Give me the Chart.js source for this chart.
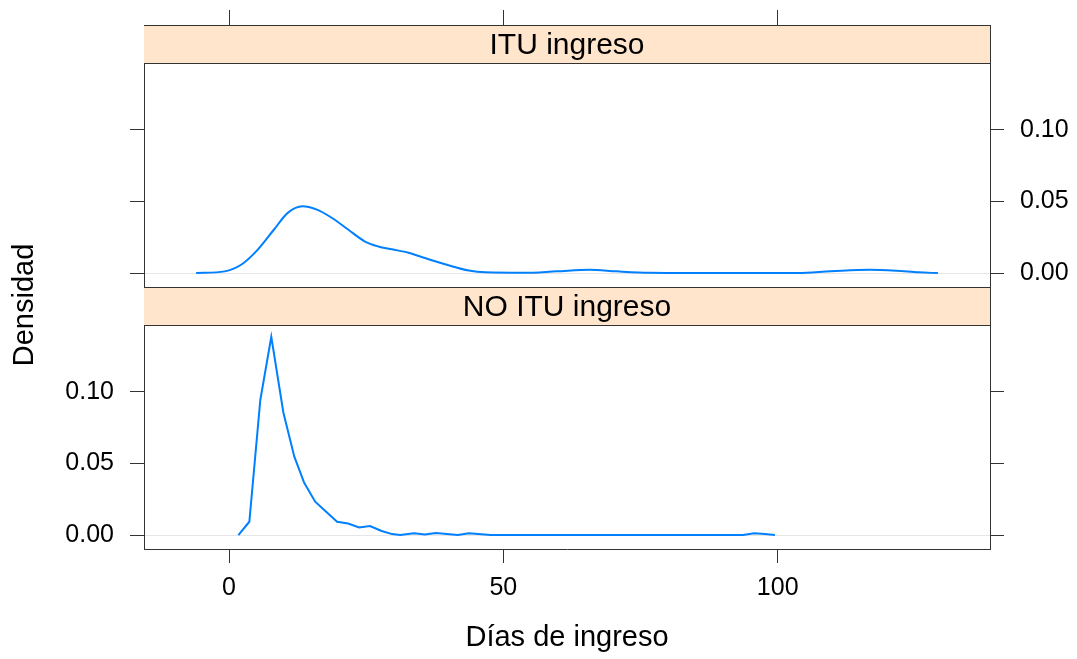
<!DOCTYPE html>
<html>
<head>
<meta charset="utf-8">
<title>Densidad - Días de ingreso</title>
<script src="https://cdn.jsdelivr.net/npm/chart.js@4.4.0/dist/chart.umd.min.js"></script>
<style>
    html, body { margin: 0; padding: 0; background: #ffffff; }
    #wrap { width: 1077px; height: 659px; position: relative; }
</style>
</head>
<body>
<div id="wrap"><canvas id="densityChart"></canvas></div>
<script>
const panelLabels = ['ITU ingreso', 'NO ITU ingreso'];

// ITU ingreso (top panel)
const ituX = [-6.0, -0.8, 2.2, 5.2, 8.2, 10.7, 13.4, 15.9, 18.7, 21.7, 24.7, 27.2, 29.7, 32.7, 35.7,
              39.7, 43.7, 46.7, 53.7, 59.7, 65.7, 70.7, 76.7, 83.7, 103.7, 109.7, 116.7, 121.7, 125.7, 129.2];
const ituY = [0.0000, 0.0012, 0.0058, 0.0162, 0.0304, 0.0420, 0.0466, 0.0444, 0.0386, 0.0304, 0.0222, 0.0186, 0.0166, 0.0142, 0.0105,
              0.0058, 0.0018, 0.0005, 0.0002, 0.0012, 0.0023, 0.0012, 0.0002, 0.0000, 0.0000, 0.0012, 0.0023, 0.0016, 0.0005, 0.0000];

// NO ITU ingreso (bottom panel)
const noItuX = [1.7, 3.7, 5.7, 7.7, 9.9, 11.9, 13.7, 15.7, 17.7, 19.7, 21.7, 23.7, 25.7, 27.7,
                29.7, 31.2, 33.7, 35.7, 37.7, 39.7, 41.7, 43.7, 47.7, 93.7, 95.7, 97.7, 99.5];
const noItuY = [0.0000, 0.0093, 0.0942, 0.1382, 0.0855, 0.0547, 0.0365, 0.0233, 0.0163, 0.0093, 0.0081, 0.0053, 0.0063, 0.0030,
                0.0007, 0.0000, 0.0012, 0.0005, 0.0014, 0.0007, 0.0000, 0.0012, 0.0000, 0.0000, 0.0012, 0.0007, 0.0000];

const xTickValues = [0, 50, 100];
const yTickValues = [0, 0.05, 0.10];
const yTickLabels = ['0.00', '0.05', '0.10'];

const xTitle = 'Días de ingreso';
const yTitle = 'Densidad';

// --- Look ---
const LINE_BLUE = '#0080ff';
const STRIP_BG = '#ffe5cc';
const FRAME = '#333333';
const REF_LINE = '#e6e6e6';
const STRIP_H = 38;
const X_MIN = -15.5, X_MAX = 138.7;
const Y_MIN = -0.0097, Y_MAX = 0.173; // top of range is covered by the strip

Chart.defaults.font.family = '"Liberation Sans", Arial, sans-serif';
Chart.defaults.color = '#000000';

function toPoints(xs, ys) {
    return xs.map((x, i) => ({ x: x, y: ys[i] }));
}

function fixTicks(values) {
    return scale => { scale.ticks = values.map(v => ({ value: v })); };
}

// builds one of the four stacked y axes (two per side)
function yAxis(position, showLabels, weight, refLine) {
    return {
        type: 'linear', position: position, stack: position, stackWeight: 1, weight: weight,
        min: Y_MIN, max: Y_MAX,
        afterBuildTicks: fixTicks(yTickValues),
        afterFit: scale => {
            scale.width = position === 'left' ? 144 : 87;
            // labels never reach the panel edges, so no extra room needed
            scale.paddingTop = 0; scale.paddingBottom = 0;
        },
        ticks: {
            display: showLabels, padding: 16, font: { size: 25 }, color: '#000',
            callback: value => yTickLabels[yTickValues.indexOf(value)]
        },
        grid: {
            drawOnChartArea: refLine, drawTicks: true, tickLength: 14, tickColor: FRAME,
            color: ctx => (refLine && ctx.tick && ctx.tick.value === 0) ? REF_LINE : 'rgba(0,0,0,0)'
        },
        border: { display: true, color: FRAME, width: 1 }
    };
}

// strips with the panel names + the rotated y title
const latticePlugin = {
    id: 'latticeStrips',
    beforeDatasetsDraw(chart) {
        const { ctx, chartArea } = chart;
        ['yLeftTop', 'yLeftBottom'].forEach((id, i) => {
            const s = chart.scales[id];
            const top = Math.round(s.top);
            ctx.save();
            ctx.fillStyle = STRIP_BG;
            ctx.fillRect(chartArea.left, top, chartArea.width, STRIP_H);
            ctx.strokeStyle = FRAME; ctx.lineWidth = 1;
            ctx.beginPath();
            ctx.moveTo(chartArea.left, top + 0.5); ctx.lineTo(chartArea.right, top + 0.5);
            ctx.moveTo(chartArea.left, top + STRIP_H + 0.5); ctx.lineTo(chartArea.right, top + STRIP_H + 0.5);
            ctx.stroke();
            ctx.fillStyle = '#000';
            ctx.font = '30px "Liberation Sans", Arial, sans-serif';
            ctx.textAlign = 'center'; ctx.textBaseline = 'alphabetic';
            ctx.fillText(panelLabels[i], (chartArea.left + chartArea.right) / 2, top + 28.5);
            ctx.restore();
        });
    },
    afterDraw(chart) {
        const { ctx } = chart;
        ctx.save();
        ctx.translate(33, 305);
        ctx.rotate(-Math.PI / 2);
        ctx.fillStyle = '#000';
        ctx.font = '29px "Liberation Sans", Arial, sans-serif';
        ctx.textAlign = 'center'; ctx.textBaseline = 'alphabetic';
        ctx.fillText(yTitle, 0, 0);
        ctx.restore();
    }
};

function createDensityChart() {
    const canvas = document.getElementById('densityChart');
    if (!canvas) {
        console.error("Canvas element #densityChart not found!");
        return;
    }
    const ctx = canvas.getContext('2d');

    const data = {
        datasets: [
            {
                label: panelLabels[0], data: toPoints(ituX, ituY),
                xAxisID: 'x', yAxisID: 'yLeftTop',
                borderColor: LINE_BLUE, borderWidth: 2, pointRadius: 0,
                cubicInterpolationMode: 'monotone', fill: false
            },
            {
                label: panelLabels[1], data: toPoints(noItuX, noItuY),
                xAxisID: 'x', yAxisID: 'yLeftBottom',
                borderColor: LINE_BLUE, borderWidth: 2, pointRadius: 0,
                tension: 0, fill: false
            }
        ]
    };

    const config = {
        type: 'line', data: data,
        options: {
            responsive: true, maintainAspectRatio: false,
            animation: false, parsing: true,
            layout: { padding: { top: 10, left: 0, right: 0, bottom: 0 } },
            scales: {
                x: {
                    type: 'linear', position: 'bottom', min: X_MIN, max: X_MAX,
                    afterBuildTicks: fixTicks(xTickValues),
                    afterFit: scale => { scale.height = 110; },
                    ticks: { padding: 10, font: { size: 25 }, color: '#000', maxRotation: 0 },
                    grid: { drawOnChartArea: false, drawTicks: true, tickLength: 14, color: FRAME, tickColor: FRAME },
                    border: { display: true, color: FRAME, width: 1 },
                    title: { display: true, text: xTitle, font: { size: 29 }, color: '#000', padding: { top: 0, bottom: 4 } }
                },
                xTop: {
                    type: 'linear', position: 'top', min: X_MIN, max: X_MAX,
                    afterBuildTicks: fixTicks(xTickValues),
                    afterFit: scale => { scale.height = 15; },
                    ticks: { display: false },
                    grid: { drawOnChartArea: false, drawTicks: true, tickLength: 15, color: FRAME, tickColor: FRAME },
                    border: { display: true, color: FRAME, width: 1 }
                },
                yLeftBottom: yAxis('left', true, 0, true),
                yLeftTop: yAxis('left', false, 1, true),
                yRightTop: yAxis('right', true, 0, false),
                yRightBottom: yAxis('right', false, 1, false)
            },
            plugins: {
                legend: { display: false },
                tooltip: { enabled: false }
            }
        },
        plugins: [latticePlugin]
    };

    try {
        new Chart(ctx, config);
    } catch (error) {
        console.error("Error creating density chart:", error);
    }
}

createDensityChart();
</script>
</body>
</html>
